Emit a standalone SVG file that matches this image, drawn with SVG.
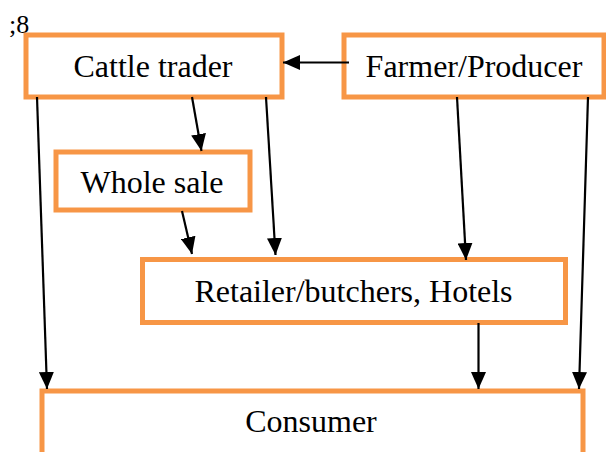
<svg xmlns="http://www.w3.org/2000/svg" width="606" height="452" viewBox="0 0 606 452">
<style>
.box{fill:#fff;stroke:#f79646;stroke-width:5}
.lbl{font-family:"Liberation Serif","Times New Roman",serif;font-size:32px;fill:#000;text-anchor:middle}
.edge{stroke:#000;stroke-width:2.2;fill:none;marker-end:url(#ah)}
</style>
<defs>
<marker id="ah" markerUnits="userSpaceOnUse" markerWidth="17" markerHeight="15" refX="17" refY="7.5" orient="auto">
<path d="M0,0 L17,7.5 L0,15 z" fill="#000"/>
</marker>
</defs>
<rect width="606" height="452" fill="#fff"/>
<text x="9" y="33" font-family="Liberation Serif, serif" font-size="26">;8</text>
<g id="cattle">
<rect class="box" x="26" y="35" width="256" height="62"/>
<text class="lbl" x="153" y="77">Cattle trader</text>
</g>
<g id="farmer">
<rect class="box" x="344" y="35" width="260" height="62"/>
<text class="lbl" x="474" y="77">Farmer/Producer</text>
</g>
<g id="wholesale">
<rect class="box" x="56" y="152" width="194" height="58"/>
<text class="lbl" x="152" y="193">Whole sale</text>
</g>
<g id="retailer">
<rect class="box" x="142.5" y="259.5" width="423" height="63"/>
<text class="lbl" x="353.5" y="302">Retailer/butchers, Hotels</text>
</g>
<g id="consumer">
<rect class="box" x="42" y="391" width="541" height="100"/>
<text class="lbl" x="311" y="432">Consumer</text>
</g>
<g id="connectors">
<line class="edge" x1="349" y1="62.5" x2="283" y2="62.5"/>
<line class="edge" x1="37" y1="97" x2="47" y2="389"/>
<line class="edge" x1="192" y1="97" x2="201.5" y2="151"/>
<line class="edge" x1="266" y1="97" x2="275.5" y2="255"/>
<line class="edge" x1="182" y1="211" x2="192" y2="254"/>
<line class="edge" x1="457" y1="97" x2="466" y2="260"/>
<line class="edge" x1="588" y1="97" x2="579" y2="389"/>
<line class="edge" x1="478.5" y1="323" x2="478.5" y2="389"/>
</g>
</svg>
